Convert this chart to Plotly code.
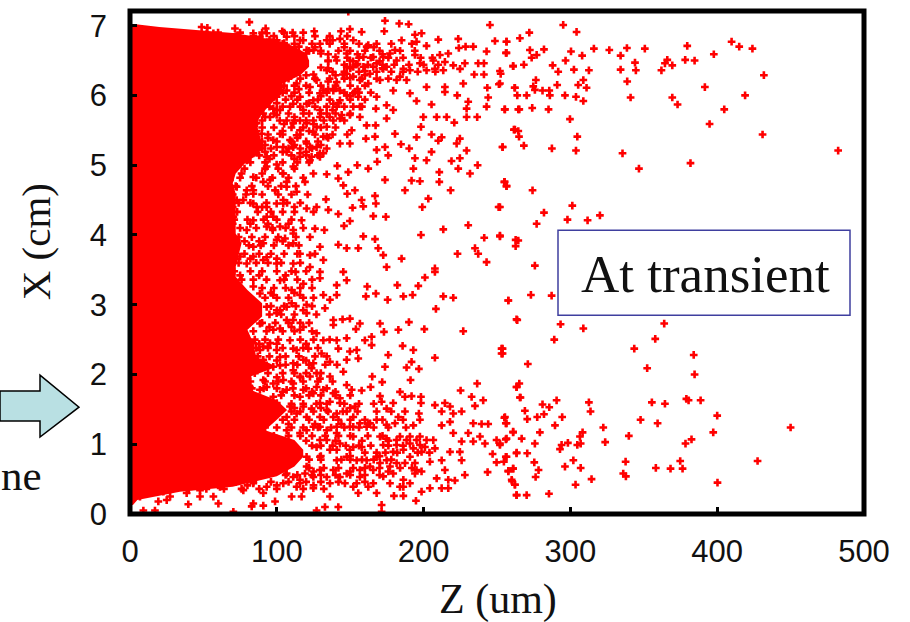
import plotly.graph_objects as go

# Outline of the saturated core of the cloud (Z um, X cm)
core_z = [0, 4, 20, 43, 72, 100, 112, 120, 122, 122, 116, 104, 104, 96, 90, 86, 88, 90, 88, 78, 72, 70, 72, 72, 72, 72, 72, 76, 74, 72,
          72, 80, 90, 90, 80, 84, 86, 100, 82, 82, 100, 107, 100, 92, 112, 118, 118, 112, 100, 70, 34, 5, 2, 0]
core_x = [7.0, 7.02, 6.98, 6.94, 6.89, 6.79, 6.70, 6.60, 6.50, 6.41, 6.29, 6.17, 6.03, 5.88, 5.74, 5.60, 5.45, 5.31, 5.17, 5.02, 4.88, 4.74, 4.59, 4.45, 4.31, 4.16, 4.02, 3.88, 3.69, 3.54,
          3.40, 3.21, 3.02, 2.83, 2.64, 2.45, 2.25, 2.11, 1.97, 1.78, 1.63, 1.49, 1.35, 1.20, 1.06, 0.92, 0.82, 0.68, 0.54, 0.39, 0.32, 0.20, 0.13, 0.13]

# Individual plus marks: (Z um, X cm)
far_upper = [
(295.1,7.01),(304.2,6.91),(272,6.90),(265.6,6.82),(256.5,6.77),(256.1,6.61),(272.4,6.65),(282,6.66),(273.6,6.54),(277,6.58),
(300.4,6.63),(308,6.57),(296.7,6.50),(316,6.67),(326.5,6.65),(334.2,6.57),(338.5,6.68),(350.7,6.67),(379.6,6.71),(397.7,6.59),
(409.8,6.77),(415,6.70),(424,6.67),(431.8,6.29),(344,6.47),(344.6,6.36),(334.2,6.37),(338.7,6.20),(341,5.97),(366,6.51),
(369.4,6.43),(364.4,6.46),(362,6.36),(378.2,6.51),(384.6,6.50),(391.6,6.12),(419,6.0),(369.4,5.97),(373,5.87),(404.8,5.80),
(394.8,5.59),(430.9,5.44),(482.4,5.21),(381.8,5.03),(346.7,4.95),(335.5,5.17),(303.8,5.21),(304.7,5.41),(299.7,5.66),(287.4,5.24),
(268.3,5.28),(253.8,5.26),(265,5.41),(261.5,5.51),(264.5,5.49),(255.2,5.80),(265.2,5.80),(274,5.82),(285.1,5.80),(296.3,6.0),
(303.8,5.98),(308.8,5.92),(286,6.0),(285.6,6.07),(281,6.07),(270.2,6.0),(263.8,6.0),(262.2,6.11),(274.7,6.13),(276.5,6.22),
(275.8,6.08),(291,6.15),(305.3,6.15),(308.8,6.22),(311,6.11),(312.6,6.36),(302.4,6.37),(291.7,6.34),(287.9,6.43),(268.3,6.44),
(261,6.42),(252.5,6.31),(252,6.17),(255.2,4.76),(256.5,4.70),(274.2,4.64),(301.3,4.42),(282,4.32),(277,4.16),(298,4.22),
(311.7,4.21),(320.1,4.28),(252,4.40),(252,3.98),(262.7,3.93),(262.7,3.84),(275.8,3.56)]

far_lower = [
(257.7,3.06),(273.1,3.14),(287.2,3.13),(263.8,2.78),(293.3,2.72),(308.8,2.66),(289,2.50),(253.8,2.37),(253.8,2.30),(271,2.15),
(343.5,2.37),(357.8,2.51),(363.9,2.73),(384,2.28),(384.6,2.00),(352.3,2.09),(263.4,1.82),(265.2,1.87),(266,1.67),(290.6,1.63),
(281,1.57),(285.6,1.53),(269,1.48),(282,1.43),(277.4,1.39),(270.6,1.36),(294.4,1.39),(289.5,1.27),(312.6,1.60),(313.7,1.47),
(355.5,1.60),(364.4,1.58),(379,1.65),(380.5,1.63),(388.7,1.63),(347.8,1.35),(359.4,1.30),(400,1.41),(450,1.24),(397.3,1.17),
(322.4,1.24),(339.8,1.12),(323.7,1.03),(308.3,1.17),(306.5,1.11),(307,1.01),(304.7,0.99),(298.3,1.02),(294,0.99),(292.9,0.93),
(279.2,1.17),(275.8,1.01),(266.8,1.08),(261,1.18),(256,1.07),(255,1.38),(256,1.30),(252,1.01),(263.4,0.88),(270.6,0.87),
(256,0.82),(254.7,0.75),(275.4,0.74),(278.3,0.63),(276.3,0.53),(261,0.65),(257.7,0.61),(260.2,0.47),(262.2,0.42),(263.4,0.27),
(270.2,0.27),(285.4,0.29),(303.5,0.42),(314.4,0.50),(296.3,0.68),(302,0.77),(307,0.66),(337.6,0.75),(336,0.58),(337.8,0.54),
(358.2,0.66),(368.2,0.65),(374.8,0.76),(376.4,0.65),(400.2,0.45),(427.5,0.76),(378.4,1.01),(382.5,1.07)]

mid_upper = [
(81.3,7.05),(103.7,6.92),(148.7,7.20),(173.7,7.07),(183.4,7.03),(189.8,7.02),(173.2,6.92),(245.2,7.01),(157.8,6.91),(149.8,6.95),
(143.7,6.92),(125.5,6.92),(110.8,6.90),(92.4,6.96),(71.5,6.96),(52.7,6.97),(48.8,6.98),(223.6,6.81),(248.6,6.78),(256.5,6.77),
(256.5,6.61),(242.9,6.63),(210,6.80),(198.6,6.89),(194.1,6.87),(195.2,6.77),(185,6.79),(233.8,6.70),(228.6,6.70),(224,6.68),
(216.8,6.60),(202,6.71),(162.3,6.72),(180.5,6.65),(194.1,6.58),(211.1,6.58),(214.5,6.48),(207.7,6.38),(213.4,6.36),(220.2,6.43),
(228.1,6.46),(224.8,6.38),(237.2,6.46),(241.1,6.46),(234.5,6.30),(241.1,6.30),(261,6.42),(252,6.35),(251.3,6.16),(243.4,6.11),
(262,6.11),(244,5.97),(242.9,5.84),(255.4,5.80),(264.5,5.80),(236.5,5.69),(229.3,5.69),(230.4,5.91),(229.3,5.81),(222.9,6.0),
(227,6.17),(214.5,6.12),(214.5,6.05),(202,6.12),(190.7,6.03),(195.2,5.92),(205.4,5.87),(208.9,5.69),(215.7,5.69),(220.9,5.61),
(199.8,5.69),(198.2,5.55),(195.2,5.40),(205.4,5.44),(212.3,5.40),(210,5.35),(224.7,5.38),(222.5,5.31),(253.8,5.26),(262.2,5.51),
(190.2,5.24),(184.6,5.30),(173.7,5.26),(180.5,5.45),(166.9,5.41),(160.7,5.38),(149.8,5.31),(143,5.31),(167.5,5.81),(161.2,5.57),
(167.3,5.57),(151,5.50),(174.8,5.67),(179.3,5.79),(156.6,5.84),(168,5.98),(174.8,5.86),(179.3,6.07),(170.3,6.22),(186.2,6.38),
(172.5,6.38),(168,6.46),(181.6,6.22),(188.4,6.22),(162.3,6.17),(152.1,6.03),(140.8,6.19),(168,5.22),(175.9,5.14),(194.1,5.10),
(205.4,5.19),(202,5.07),(219,5.06),(229.3,5.21),(224.7,5.10),(223.6,4.95),(231.6,4.88),(236.8,5.0),(210.7,4.90),(210.7,4.76),
(193,4.95),(197.5,4.77),(191.8,4.78),(173.7,4.79),(168.4,5.05),(162.3,4.95),(154.8,5.0),(148.7,4.90),(141.2,4.99),(141.9,4.81),
(134,4.87),(145.3,4.71),(187.3,4.64),(218.4,4.64),(255,4.76),(256.5,4.70),(153.2,4.64),(148,4.59),(166.9,4.56),(157.8,4.50),
(167.5,4.45),(158.9,4.41),(133.5,4.51),(151.6,4.39),(127.1,4.40),(120.3,4.38),(135.1,4.36),(141.9,4.30),(116.9,4.21),(165.7,4.27),
(174.3,4.26),(203.2,4.52),(199.1,4.40),(251.1,4.40),(230.4,4.14),(213.4,4.08),(198.2,4.0),(241.3,3.96),(252,3.99),(264.5,3.92),
(158.9,3.98),(166.9,3.94),(149.8,4.20),(145.8,4.13),(132.4,4.07),(126,4.09),(122.6,3.97),(141.9,3.86),(147.6,3.81),(155.5,3.81),
(169.1,3.81),(172.5,3.71),(223.1,3.73),(235,3.81),(237.2,3.73),(242.9,3.61),(185,3.66),(207.7,3.52),(174.8,3.54),(131.7,3.64),
(122.6,3.71),(129.4,3.83),(111.2,3.88),(105.6,3.95),(97.2,4.07),(111.2,4.07),(93.1,4.26),(104.4,4.45),(98.8,4.64),(90.8,4.76),
(113.5,4.62),(119.2,4.76),(106.7,4.76),(124.9,4.88),(111.2,4.98),(99.9,5.01),(129.4,5.17),(122.6,5.07),(131.7,5.41),(134,5.74),
(129.4,5.69),(120.3,5.60),(102.2,5.45),(109,5.36),(115.8,5.50),(124.9,5.93),(111.2,5.88),(97.6,5.81),(88.5,6.17),(102.2,6.12),
(113.5,6.17),(140.8,5.84),(149.8,5.72),(143,6.07),(155.5,5.98)]

mid_lower = [
(200.9,3.39),(207.7,3.47),(196.4,3.27),(182.1,3.28),(192.5,3.14),(186.2,3.12),(167.5,3.16),(160.7,3.12),(161.6,3.26),(175.5,3.07),
(213.4,3.12),(220.2,3.10),(208.4,2.94),(257.7,3.06),(263.3,2.79),(227,2.62),(200.5,2.65),(190,2.75),(182.8,2.64),(173,2.61),
(170.3,2.73),(156.6,2.73),(153.9,2.65),(149.8,2.80),(144.8,2.79),(138.5,2.78),(138.5,2.71),(132.8,2.95),(131.7,3.14),(140.8,3.14),
(136.2,3.07),(147.6,3.35),(140.8,3.28),(129.4,3.38),(145.3,3.47),(129.4,3.47),(112.8,3.47),(102.2,3.35),(118.1,3.30),(110.1,3.21),
(115.8,3.14),(110.1,3.02),(120.3,3.0),(120.3,2.88),(102.2,2.92),(106.7,2.78),(97.6,3.14),(118.1,2.68),(127.1,2.59),(131.7,2.49),
(140.8,2.49),(147.6,2.52),(141.9,2.37),(160,2.49),(164.6,2.42),(164.6,2.54),(185.7,2.41),(193,2.35),(149.8,2.33),(154.4,2.35),
(155.5,2.23),(175.9,2.28),(207.7,2.24),(253.1,2.37),(253.1,2.30),(173.7,2.11),(188.4,2.10),(191.8,2.18),(196.8,2.08),(136.2,2.18),
(147.6,2.21),(145.3,2.04),(130.5,2.30),(121.5,2.37),(111.2,2.37),(102.2,2.25),(111.2,2.06),(123.7,2.09),(122.6,1.97),(136.2,1.97),
(102.2,2.13),(129.4,1.94),(165,1.97),(171.8,1.89),(163.9,1.82),(191.1,1.92),(147.6,1.85),(151,1.78),(157.8,1.77),(127.1,1.82),
(111.2,1.87),(236.5,1.87),(225.2,1.77),(263.3,1.82),(232.7,1.68),(240.6,1.63),(235,1.55),(265.6,1.67),(183.9,1.75),(191.8,1.69),
(198.2,1.68),(198.2,1.59),(187.3,1.68),(170.3,1.69),(171.4,1.61),(179.3,1.59),(174.8,1.51),(207.7,1.56),(214.5,1.59),(218,1.54),
(212.3,1.47),(225.9,1.47),(220.2,1.44),(196.8,1.44),(187.3,1.47),(182.8,1.39),(180.5,1.30),(174.8,1.28),(193,1.27),(197.5,1.35),
(168,1.35),(163.5,1.30),(153.2,1.54),(152.1,1.25),(143,1.66),(136.2,1.61),(124.9,1.73),(115.8,1.68),(123.7,1.51),(134,1.49),
(147.6,1.47),(113.5,1.44),(212.3,1.27),(218,1.32),(220.2,1.16),(233.8,1.30),(244,1.29),(239.5,1.29),(255.4,1.39),(256.5,1.30),
(261,1.17),(230.4,1.16),(238.4,1.11),(233.8,1.04),(241.8,1.01),(249.7,1.06),(252,0.99),(256.5,1.08),(225.9,1.04),(224.7,0.89),
(218,0.89),(263.3,0.87),(256.5,0.82),(247,0.86),(249.7,0.74),(225.9,0.77),(212.3,0.77),(214.5,0.63),(228.1,0.56),(243.6,0.60),
(257.7,0.62),(261,0.65),(260,0.49),(262.2,0.42),(263.3,0.27),(221.3,0.48),(216.8,0.49),(208.9,0.51),(212.3,0.37),(216.8,0.37),
(204.3,0.37),(198.6,0.32),(194.8,0.19),(186.2,0.26),(179.8,0.26),(171.4,0.13),(171.4,0.03),(162.3,0.39),(168,0.30),(155.5,0.30),
(141.9,0.10),(132.8,0.10),(127.1,0.05),(116.9,0.25),(110.1,0.25),(90.8,0.12),(84,0.15),(82.9,0.11),(98.8,0.18),(70.4,0.03),
(60.2,0.15),(39.7,0.14),(17,0.05),(9.1,0.05),(47.7,0.25),(38.6,0.30),(25,0.20),(19.3,0.18),(90.8,0.30),(77.2,0.34),
(136.2,0.25),(124.9,0.37),(113.5,0.39),(146.4,0.44),(154.4,0.44),(136.2,0.44)]

dense_bands = [
(174.8,1.08),(181.6,1.06),(188.4,1.06),(195.2,1.06),(202,1.06),(207.7,0.94),(200.9,0.96),(193,0.94),(186.2,0.92),(179.3,0.89),
(172.5,0.99),(204.3,0.75),(194.1,0.73),(187.3,0.73),(181.6,0.73),(174.8,0.77),(168,0.82),(161.2,0.77),(157.8,0.96),(152.1,0.96),
(147.6,0.82),(140.8,0.92),(134,1.06),(127.1,0.96),(120.3,0.82),(129.4,0.63),(138.5,0.63),(147.6,0.58),(156.6,0.63),(165.7,0.63),
(172.5,0.54),(179.3,0.58),(186.2,0.49),(194.1,0.58),(198.6,0.61),(186.2,0.39),(119.2,0.58),(115.8,0.49),(106.7,0.58),(106.7,1.2),
(115.8,1.16),(124.9,1.25),(134,1.2),(140.8,1.25),(120.3,1.39),(129.4,1.39),(106.7,1.39),(138.5,1.39),(100,1.59),(70.4,3.30),
(75,3.21),(84,3.26),(88.5,3.16),(79.5,3.02),(93.1,2.97),(84,2.87),(88.5,2.73),(97.6,2.64),(90.8,2.40),(84,2.45),
(93.1,2.13),(84,2.09),(97.6,2.11),(90.8,1.92),(81.7,1.82),(93.1,1.82),(97.6,1.68),(65.8,4.88),(72.7,4.98),(79.5,5.07),
(84,5.17),(88.5,5.26),(93.1,5.12),(84,4.59),(79.5,4.64),(72.7,4.50),(65.8,4.45),(70.4,4.26),(79.5,4.07),(72.7,3.93),
(84,3.83),(68.1,4.07),(93.1,3.68),(79.5,3.59),(99.9,3.59),(90.8,3.88),(86.3,4.40),(97.6,4.26),(106.7,4.69),(115.8,5.12),
(122.6,5.26),(99.9,5.26),(111.2,5.60),(95.4,5.69),(102.2,5.79),(118.1,5.74),(127.1,5.55),(138.5,5.64),(143,5.93),(131.7,6.07),
(127.1,6.22),(134,6.36),(140.8,6.50),(147.6,6.60),(152.1,6.41),(159,6.55),(163.5,6.31),(156.6,6.22),(147.6,6.31),(60,6.8),
(70,6.75),(85,6.78),(95,6.8),(105,6.75),(115,6.7),(125,6.65),(100,6.6),(110,6.55),(120,6.6),(130,6.6),
(135,6.5),(140,6.55),(150,6.4),(155,6.45),(145,6.3),(150,6.25),(160,6.35),(130,6.4),(125,6.3),(135,6.2),(140,6.1)]

dense_upper_extra = [
(86.3,6.22),(93.1,6.12),(99.9,6.22),(106.7,6.07),(115.8,5.98),(122.6,6.12),(129.4,6.03),(138.5,6.07),(147.6,6.0),(153.2,6.05),
(88.5,5.93),(99.9,5.98),(109,5.84),(120.3,5.88),(129.4,5.79),(138.5,5.88),(144.2,5.72),(152.1,5.84),(156.6,5.69),(143,5.67),
(99.9,5.72),(106.7,5.64),(115.8,5.64),(124.9,5.64),(134,5.55),(124.9,5.48),(113.5,5.43),(90.8,5.74),(86.3,5.60),(89.7,5.45),
(97.6,5.36),(106.7,5.19),(115.8,5.17),(123.7,5.12),(129.4,5.12),(134,5.41),(127.1,5.26),(131.7,5.17),(120.3,5.31),(111.2,5.26),
(104.4,5.26),(93.1,4.98),(104.4,4.88),(95.4,4.79),(104.4,4.50),(99.9,4.45),(84,4.45),(93.1,4.40),(72.7,4.69),(68.1,4.79),
(84,4.83),(77.2,4.50),(84,4.21),(93.1,4.12),(102.2,4.12),(99.9,3.93),(111.2,4.02),(115.8,3.73),(90.8,3.64),(111.2,3.59),
(122.6,3.54),(75,3.69),(84,3.69),(120.3,6.65),(129.4,6.74),(134,6.79),(143,6.81),(152.1,6.79),(161.2,6.70),(165.7,6.55),
(172.5,6.55),(177.1,6.60),(181.6,6.50),(174.8,6.41),(165.7,6.41),(159,6.41),(149.8,6.50),(147.6,6.41),(152.1,6.27),(197.5,6.46),
(190.7,6.36),(206.6,6.50),(202,6.36),(183.9,6.27),(93.1,6.89),(106.7,6.84),(115.8,6.79),(70.4,6.84),(56.8,6.89),(52.2,6.89),
(84,6.89),(88.5,6.84)]

dense_lower_extra = [
(99.9,2.88),(106.7,2.97),(111.2,2.78),(115.8,2.64),(102.2,2.66),(109,2.49),(113.5,2.35),(95.4,2.45),(99.9,2.35),(88.5,2.35),
(90.8,2.21),(111.2,2.16),(118.1,2.21),(124.9,2.16),(127.1,2.02),(115.8,1.97),(104.4,1.92),(97.6,1.87),(88.5,1.78),(106.7,1.78),
(118.1,1.78),(131.7,1.78),(138.5,1.73),(143,1.59),(129.4,1.59),(118.1,1.54),(109,1.54),(140.8,1.44),(152.1,1.39),(156.6,1.30),
(161.2,1.25),(149.8,1.25),(129.4,1.25),(120.3,1.2),(140.8,1.16),(152.1,1.11),(129.4,1.06),(143,1.01),(149.8,0.92),(136.2,0.92),
(129.4,0.82),(140.8,0.77),(154.4,0.77),(163.5,0.68),(170.3,0.73),(177.1,0.68),(190.7,0.82),(198.6,0.89),(206.6,1.06),(190.7,1.11),
(197.5,1.11),(183.9,1.11),(170.3,1.11),(181.6,0.99),(190.7,1.01),(197.5,0.99),(120.3,0.68),(115.8,0.44),(124.9,0.53),(134,0.53),
(143,0.53),(152.1,0.39),(156.6,0.53),(165.7,0.44),(177.1,0.44),(183.9,0.39),(190.7,0.44),(195.2,0.63),(111.2,0.53),(104.4,0.44),
(93.1,0.39),(84,0.44),(38.6,0.39),(22.7,0.32),(6.8,0.25),(61.3,0.39),(47.7,0.34),(56.8,0.25),(27.3,0.25)]

# Marks of the crowded fringe, read row by row: X level (cm) and the Z values (um) on it
fringe_x = [4.95, 4.82, 4.70, 4.58, 4.46, 4.33, 4.22, 4.10, 3.97, 3.85, 3.73, 3.60, 3.48, 3.36, 3.24, 3.10, 2.98, 2.86, 2.74, 2.62,
            2.50, 2.38, 2.26, 2.14, 2.02, 1.90, 1.80, 1.70, 1.58, 1.47, 1.35, 1.24, 1.12, 0.98, 0.88, 0.78, 0.66, 0.56, 0.46, 0.36,
            6.85, 6.74, 6.64, 6.54, 6.44, 6.34, 6.24, 6.14, 6.04, 5.94, 5.84, 5.74, 5.64, 5.54, 5.44, 5.34, 5.24, 5.14, 5.04,
            4.88, 4.64, 4.40, 4.16, 3.91, 3.66, 3.42, 3.17, 2.92, 2.68, 2.44, 2.20, 1.96, 1.75, 1.52, 1.29, 1.05, 0.83, 0.61, 0.41,
            6.90, 6.79, 6.69, 6.59, 6.49, 6.39, 6.29, 6.09, 5.99, 5.89, 5.79, 5.69, 5.59, 5.49, 5.39, 5.29, 5.19, 5.09]
fringe_z = [
[70,78,92,101,112],[66,75,86,97,108,118],[64,72,83,94,103,113],[62,70,79,90,101,110,121],[63,74,82,93,107,116],
[65,73,87,96,104,112,125],[62,71,80,91,100,110],[64,75,86,97,106,118],[66,74,83,92,101,113],[72,81,89,98,108,115],
[70,78,88,96,105,114,126],[65,74,86,94,103,116],[62,71,82,90,100,110,120],[76,84,93,105,114,124],[90,98,106,116,124],
[92,100,108,118,125],[96,105,113,124],[95,103,112,127],[73,81,90,99,108,116,122],[74,84,93,104,112,124],
[85,92,101,116,125,136],[86,94,104,118,128],[87,95,106,115,126,134],[106,114,122,133,141],[76,85,94,104,112,120,130],
[74,82,92,101,110,118,128,138],[73,83,91,100,111,120,134],[103,112,122,130,140,150],[110,118,127,134,146,156,166],[110,116,125,135,145,155,168,178],
[104,112,122,132,142,150,160,172,186],[92,100,110,118,128,137,146,156,166,176,188],[90,98,108,116,124,133,142,150,162,172],[124,130,138,147,156,164,176,186],[160,168,174,182,196,204],
[122,130,144,150,158,166,178],[122,132,142,152,160,170,184,192],[106,114,124,130,140,150,160,170],[72,84,96,108,120,130,142,160],[40,52,64,76,88,100,118,132],
[60,72,84,98,112,126,136,148],[96,104,112,124,136,146,156,168,178,192],[122,130,142,150,160,170,184,194],[148,156,164,176,186,198,206],[146,154,162,172,180,190,200,210],
[138,146,156,168,178,186,196,208],[108,116,126,136,146,158,168,176],[105,112,120,130,140,150,160],[104,112,122,134,146,156,164],[96,106,114,128,136,150,160],
[95,104,116,126,134,146,158],[88,98,108,122,130,140,150],[80,90,102,112,120,132,146],[80,90,98,110,118,130,140],[84,94,104,116,126,138,148],
[90,100,110,120,128],[90,96,108,116,124,134],[88,98,110,120,128],[72,82,92,104,114,122],
[76,90,104],[68,84,99],[70,90,112],[70,82,94,108],[78,88,104],[72,82,100],[75,88,106],[96,112],[100,118],[78,95,110],
[88,100,120],[100,120],[80,100,116],[104,124,140],[112,130,150],[108,126,144,162],[120,140,158,176],[130,150,170],[125,150,176],[60,80,100,125],
[60,75,90,105,118],[85,100,118,138],[108,126,146,166],[135,155,172],[135,152,170],[135,150,172],[120,140,160],[115,135,155],[110,130,150],[100,122,142],
[100,118,138],[92,112,136],[85,105,125],[86,104,122],[94,114,135],[92,112,130],[92,104,120],[80,95,112]]

x_ticks = [0, 100, 200, 300, 400, 500]
y_ticks = [0, 1, 2, 3, 4, 5, 6, 7]
x_title = "Z (um)"
y_title = "X (cm)"
box_text = "At transient"
side_text = "ne"

pts = far_upper + far_lower + mid_upper + mid_lower + dense_bands + dense_upper_extra + dense_lower_extra
for level, row in zip(fringe_x, fringe_z):
    pts += [(z, level) for z in row]
pts_z = [p[0] for p in pts]
pts_x = [p[1] for p in pts]

L, R, T, B = 130, 864, 10.5, 514
def px(v): return (v - L) / (R - L)
def py(v): return (B - v) / (B - T)

fig = go.Figure()
fig.add_trace(go.Scatter(x=core_z, y=core_x, mode="lines", fill="toself",
                         fillcolor="#ff0000", line=dict(color="#ff0000", width=0), hoverinfo="skip"))
fig.add_trace(go.Scatter(x=pts_z, y=pts_x, mode="markers",
                         marker=dict(symbol="cross-thin", size=5.5, color="#ff0000",
                                     line=dict(color="#ff0000", width=2.6))))

arrow = [(0, 391), (40, 391), (40, 375), (79, 407), (40, 437), (40, 421), (0, 421)]
path = "M " + " L ".join(f"{px(a):.4f},{py(b):.4f}" for a, b in arrow)

fig.update_layout(
    width=910, height=622, showlegend=False, autosize=False,
    paper_bgcolor="white", plot_bgcolor="white",
    margin=dict(l=L, r=910 - R, t=T, b=622 - B, autoexpand=False),
    font=dict(family="Liberation Sans", color="#111111"),
    xaxis=dict(range=[0, 500], tickvals=x_ticks, ticks="inside", ticklen=7, tickwidth=3,
               tickcolor="black", showgrid=False, zeroline=False, showline=False,
               ticklabelstandoff=16, automargin=False,
               tickfont=dict(size=31)),
    yaxis=dict(range=[0, 7.21], tickvals=y_ticks, ticks="inside", ticklen=7, tickwidth=3,
               tickcolor="black", showgrid=False, zeroline=False, showline=False,
               ticklabelstandoff=22, automargin=False,
               tickfont=dict(size=31)),
    shapes=[
        dict(type="rect", xref="paper", yref="paper", x0=0, x1=1, y0=0, y1=1,
             line=dict(color="black", width=5), layer="above"),
        dict(type="rect", xref="paper", yref="paper", x0=px(558), x1=px(850), y0=py(315), y1=py(230),
             line=dict(color="#3f3f9f", width=1.5), fillcolor="white", layer="above"),
        dict(type="path", xref="paper", yref="paper", path=path + " Z",
             line=dict(color="black", width=1.5), fillcolor="#b9e0e3", layer="above"),
    ],
    annotations=[
        dict(text=x_title, xref="paper", yref="paper", x=px(498), y=py(600), showarrow=False,
             xanchor="center", yanchor="middle",
             font=dict(family="Liberation Serif", size=42, color="#111111")),
        dict(text=y_title, xref="paper", yref="paper", x=px(36), y=py(242), showarrow=False,
             textangle=-90, xanchor="center", yanchor="middle",
             font=dict(family="Liberation Serif", size=41, color="#111111")),
        dict(text=box_text, xref="paper", yref="paper", x=px(705), y=py(274), showarrow=False,
             xanchor="center", yanchor="middle",
             font=dict(family="Liberation Serif", size=53, color="#111111")),
        dict(text=side_text, xref="paper", yref="paper", x=px(44), y=py(475), showarrow=False,
             xanchor="right", yanchor="middle",
             font=dict(family="Liberation Serif", size=43, color="#111111")),
    ],
)
fig.write_html("out.html", config=dict(displayModeBar=False), post_script="document.body.style.margin='0';")
